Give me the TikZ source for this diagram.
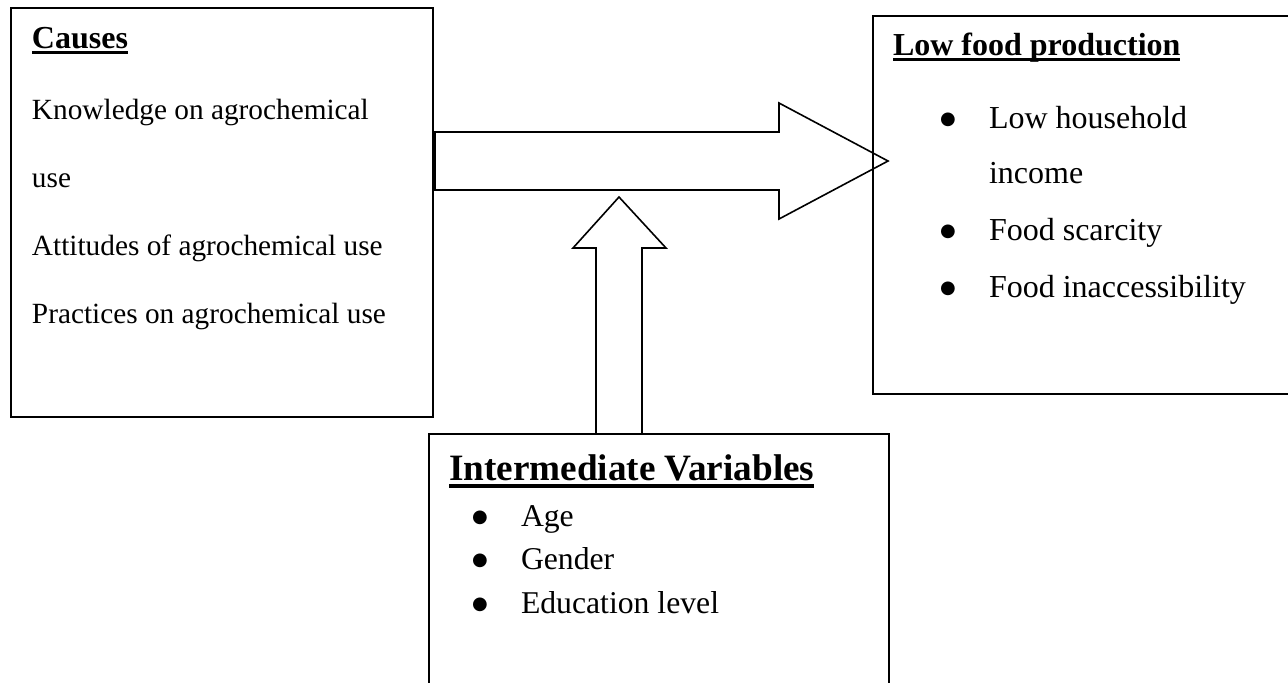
\documentclass[tikz,border=0pt]{standalone}
\usepackage{fontspec}
\setmainfont{Liberation Serif}
\newfontfamily\bulletfont{DejaVu Sans}
\usetikzlibrary{calc}
\begin{document}
\begin{tikzpicture}[x=0.5pt,y=-0.5pt,
  box/.style={draw, line width=1.3pt, rectangle, inner sep=0pt, outer sep=0pt, anchor=north west},
  blockarrow/.style={draw, line width=0.8pt, line join=miter},
  txt/.style={anchor=base west, inner sep=0pt, outer sep=0pt},
  causetxt/.style={txt, font=\fontsize{14.65pt}{17pt}\selectfont},
  effecttxt/.style={txt, font=\fontsize{16pt}{19pt}\selectfont},
  intertxt/.style={txt, font=\fontsize{15.85pt}{19pt}\selectfont},
  headtxt/.style={txt, font=\fontsize{16pt}{19pt}\selectfont\bfseries},
  bigheadtxt/.style={txt, font=\fontsize{18.6pt}{22pt}\selectfont\bfseries},
  bulletmark/.style={anchor=base, inner sep=0pt, outer sep=0pt,
    font=\bulletfont\fontsize{9pt}{10pt}\selectfont, yshift=2pt},
  uline/.style={line width=1.2pt},
  thickuline/.style={line width=2pt}
]
\useasboundingbox (0,0) rectangle (1288,682);
\begin{scope}
\clip (0,0) rectangle (1288,682);
% boxes
\node[box, minimum width=211pt, minimum height=204.5pt] (causes) at (11,8) {};
\node[box, minimum width=263.5pt, minimum height=189pt] (effect) at (873,16) {};
\node[box, minimum width=230pt, minimum height=163pt] (inter) at (429,434) {};

% right block arrow (causes -> effect)
\coordinate (rtip) at (888,161);
\coordinate (rbase) at (causes.east |- rtip);
\draw[blockarrow] ($(rbase)+(2,-29)$) -- ($(rtip)+(-109,-29)$) -- ($(rtip)+(-109,-58)$)
  -- (rtip) -- ($(rtip)+(-109,58)$) -- ($(rtip)+(-109,29)$) -- ($(rbase)+(2,29)$) -- cycle;

% up block arrow (inter -> right arrow)
\coordinate (utip) at (619,197);
\coordinate (ubase) at (utip |- inter.north);
\draw[blockarrow] ($(ubase)+(-23,0)$) -- ($(utip)+(-23,51)$) -- ($(utip)+(-46,51)$)
  -- (utip) -- ($(utip)+(47,51)$) -- ($(utip)+(23,51)$) -- ($(ubase)+(23,0)$);
\end{scope}

% Causes text
\node[headtxt] (ct) at (32,48) {Causes};
\draw[uline] ($(ct.base west)+(0,4.5)$) -- ($(ct.base east)+(0,4.5)$);
\node[causetxt] (c1) at (32,119) {Knowledge on agrochemical};
\node[causetxt] (c2) at (32,187) {use};
\node[causetxt] (c3) at (32,255) {Attitudes of agrochemical use};
\node[causetxt] (c4) at (32,323) {Practices on agrochemical use};

% Effect text
\node[headtxt] (et) at (893,55) {Low food production};
\draw[uline] ($(et.base west)+(0,4.5)$) -- ($(et.base east)+(0,4.5)$);
\node[bulletmark] (eb1) at (948,128) {●};
\node[effecttxt] (e1) at (989,128) {Low household};
\node[effecttxt] (e1b) at (989,183) {income};
\node[bulletmark] (eb2) at (948,240) {●};
\node[effecttxt] (e2) at (989,240) {Food scarcity};
\node[bulletmark] (eb3) at (948,297) {●};
\node[effecttxt] (e3) at (989,297) {Food inaccessibility};

% Intermediate text
\node[bigheadtxt] (it) at (449,480) {Intermediate Variables};
\draw[thickuline] ($(it.base west)+(0,6)$) -- ($(it.base east)+(0,6)$);
\node[bulletmark] (ib1) at (480,526) {●};
\node[intertxt] (i1) at (521,526) {Age};
\node[bulletmark] (ib2) at (480,569) {●};
\node[intertxt] (i2) at (521,569) {Gender};
\node[bulletmark] (ib3) at (480,613) {●};
\node[intertxt] (i3) at (521,613) {Education level};
\end{tikzpicture}
\end{document}
